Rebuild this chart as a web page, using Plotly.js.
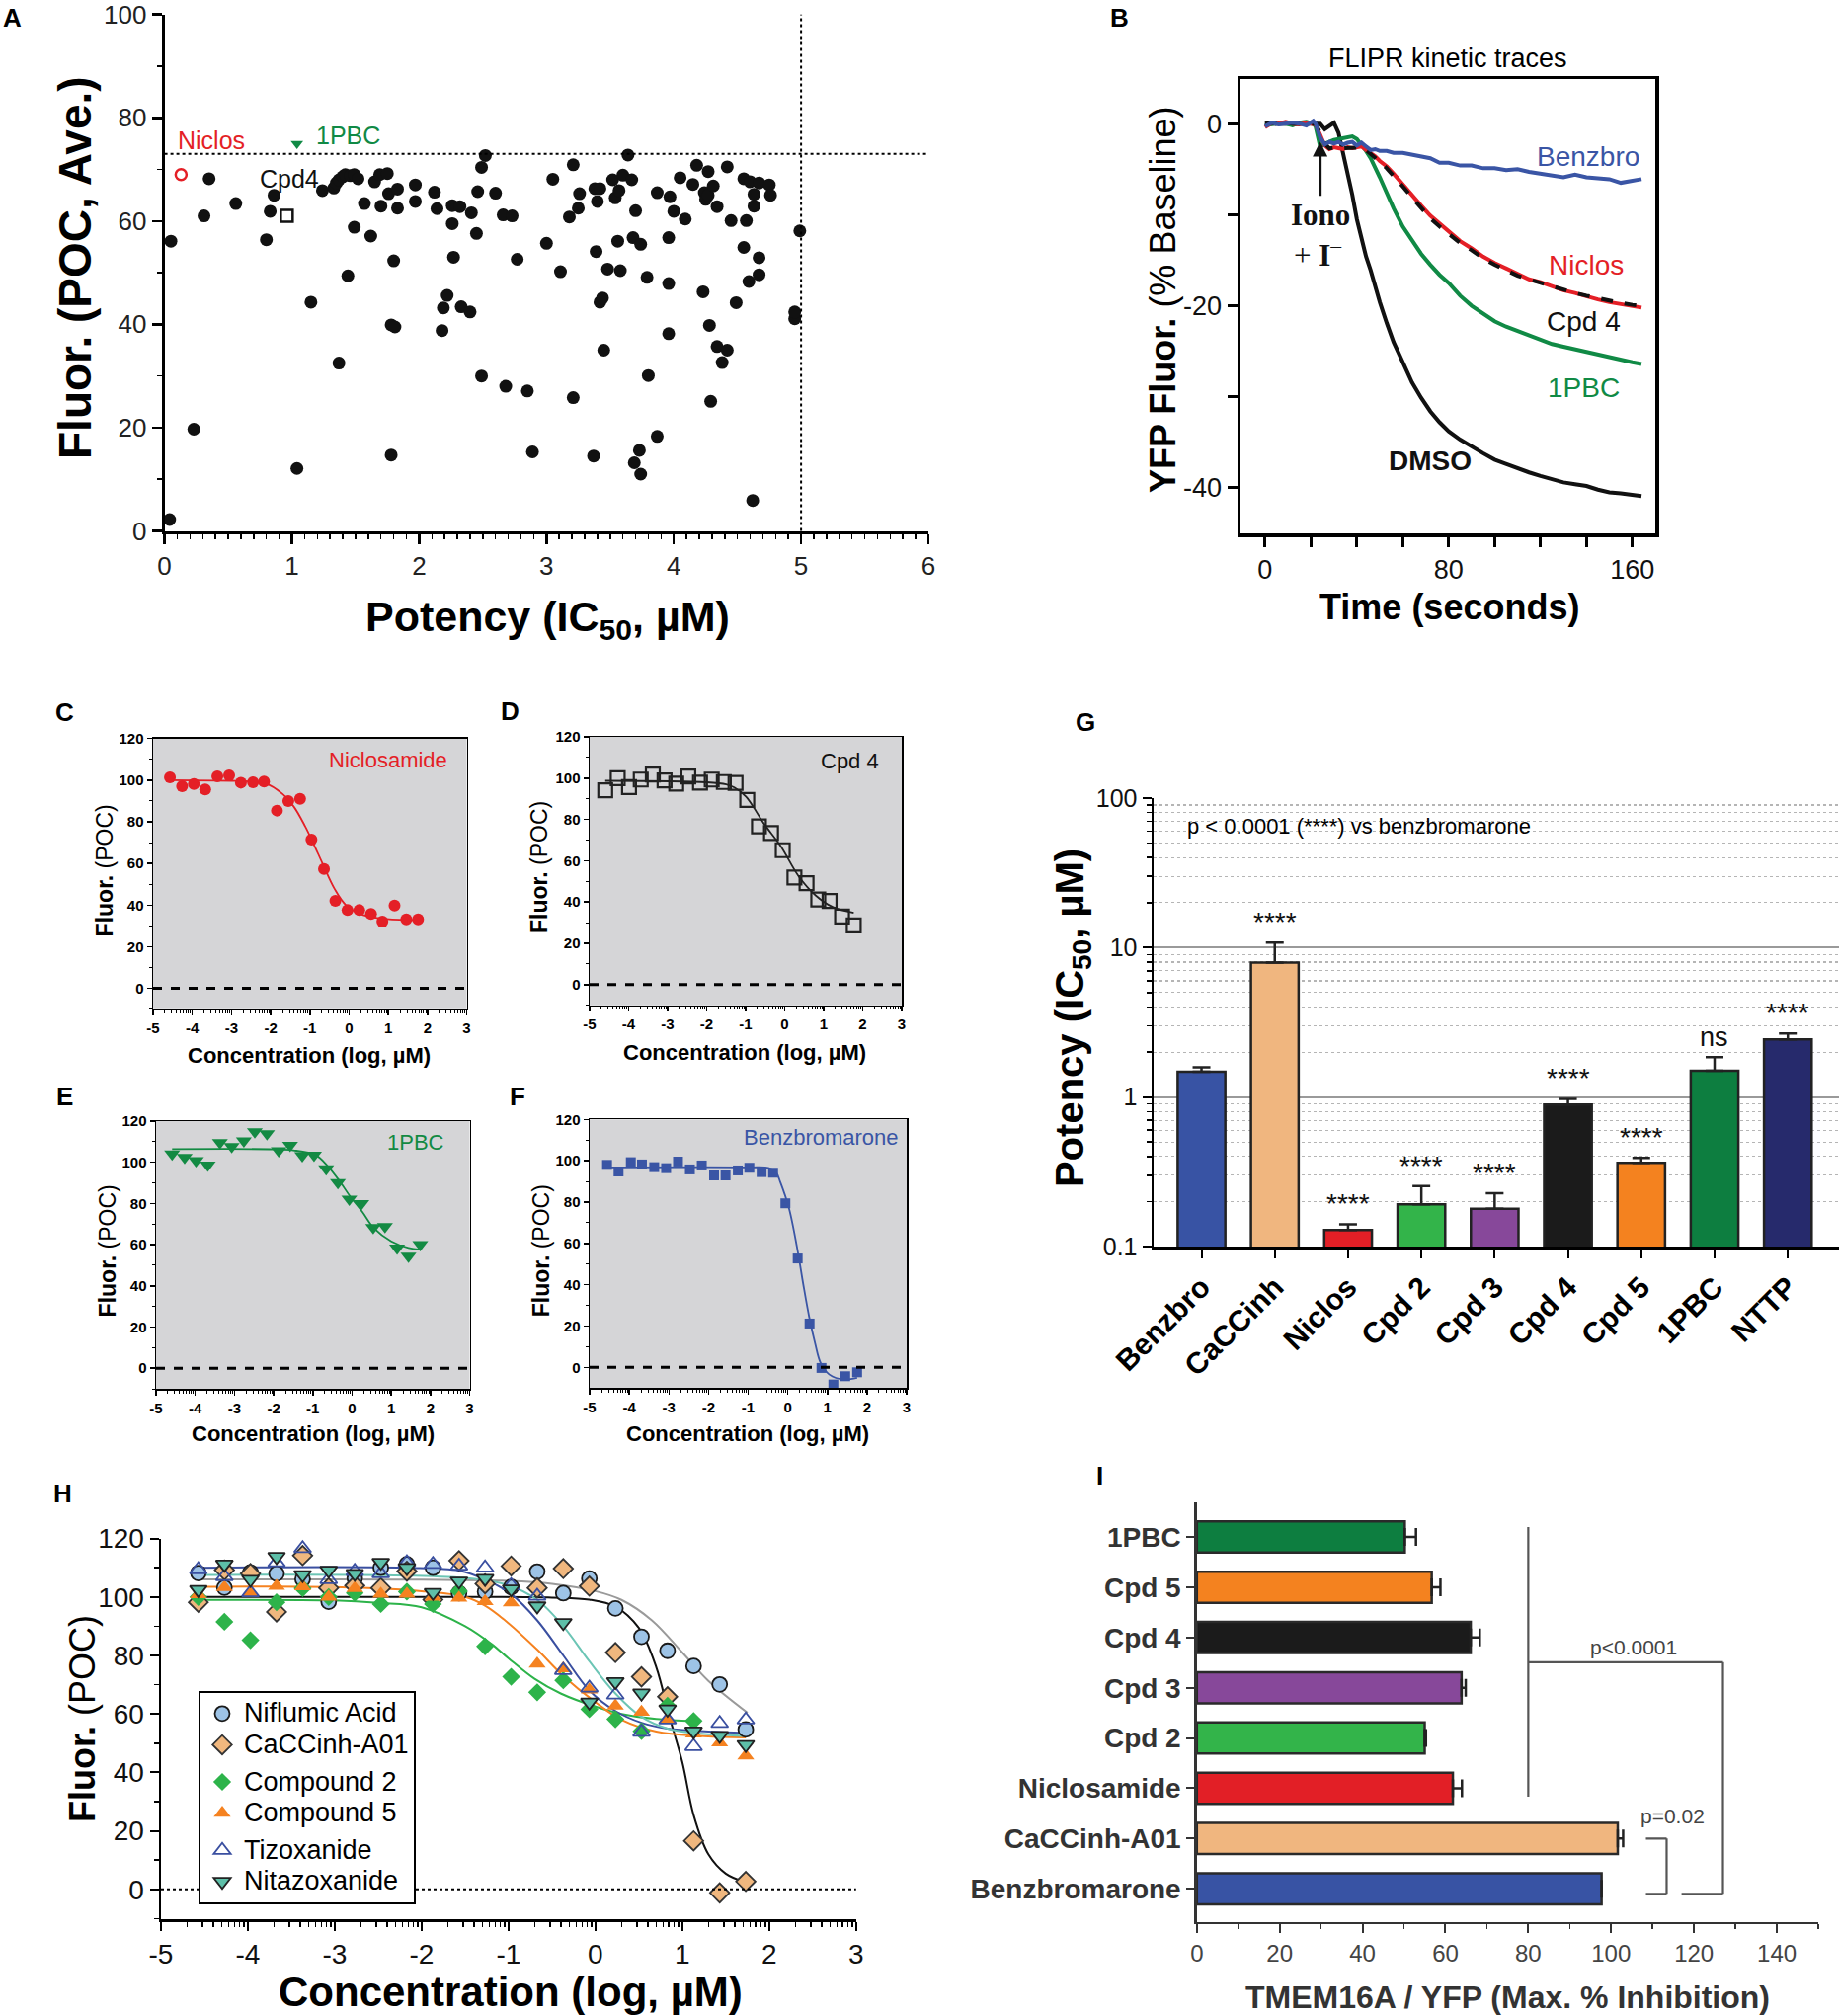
<!DOCTYPE html>
<html>
<head>
<meta charset="utf-8">
<script src="https://cdn.plot.ly/plotly-3.0.1.min.js"></script>
<style>html,body{margin:0;padding:0;background:#fff}#chart{width:1862px;height:2041px}</style>
</head>
<body>
<div id="chart"></div>
<script>
// ================= DATA =================
// Panel A: screen hits (IC50 vs max fluorescence)
const aPotency = [0.05,0.04,0.23,0.35,0.31,0.56,0.80,0.83,0.86,1.04,
  1.15,1.24,1.33,1.35,1.37,1.40,1.42,1.46,1.49,1.52,
  1.37,1.44,1.49,1.57,1.62,1.65,1.69,1.70,1.75,1.76,
  1.83,1.83,1.80,1.78,1.81,1.78,1.97,1.97,2.12,2.14,
  2.26,2.26,2.32,2.27,2.41,2.45,2.46,2.49,2.52,2.22,
  2.19,2.33,2.40,2.18,2.49,2.60,2.66,2.73,2.77,2.68,
  2.85,2.89,3.00,3.05,3.11,3.18,3.21,3.25,3.26,3.21,
  3.37,3.38,3.42,3.40,3.39,3.42,3.44,3.45,3.48,3.52,
  3.54,3.56,3.57,3.60,3.58,3.64,3.67,3.70,3.68,3.74,
  3.79,3.80,3.69,3.73,3.74,3.87,3.87,3.97,4.00,3.96,
  3.96,3.96,4.05,4.09,4.15,4.18,4.24,4.25,4.27,4.27,
  4.31,4.34,4.23,4.28,4.34,4.38,4.42,4.29,4.42,4.45,
  4.49,4.55,4.57,4.55,4.59,4.60,4.63,4.63,4.67,4.67,
  4.67,4.62,4.75,4.76,4.95,4.95,4.99];
const aFluor = [56.1,2.2,19.7,68.2,61.0,63.4,56.4,61.9,65.0,12.1,
  44.3,65.9,66.4,67.4,68.0,68.6,69.0,68.8,69.0,68.2,
  32.5,49.4,58.8,63.4,57.1,67.6,69.0,62.9,69.2,65.3,
  66.2,62.5,52.3,39.9,39.5,14.7,67.0,63.8,65.6,62.4,
  63.0,59.5,62.8,53.0,61.6,57.6,65.7,70.4,72.7,45.6,
  43.2,43.4,42.4,38.8,30.0,65.4,61.2,61.0,52.6,28.0,
  27.1,15.3,55.7,68.1,50.2,60.8,70.9,62.5,65.3,25.8,
  14.5,66.3,66.3,63.8,54.1,44.3,45.1,35.0,50.7,68.0,
  64.5,56.1,65.9,68.9,50.4,72.8,68.0,62.0,56.8,55.5,
  49.1,30.1,13.2,15.6,11.0,18.3,65.5,64.7,61.9,56.8,
  47.9,38.2,68.4,60.4,67.1,70.8,65.5,64.2,65.0,69.6,
  66.8,62.8,46.3,39.8,35.7,32.6,35.0,25.1,70.5,60.1,
  44.2,68.2,60.1,54.9,48.3,67.6,65.2,62.9,67.4,52.9,
  49.6,5.9,67.0,65.0,41.1,42.4,58.1];
const aHitNames = ['Niclos', 'Cpd4', '1PBC'];
const aHitPotency = [0.13, 0.96, 1.04];
const aHitFluor = [69.0, 61.0, 75.0];
const aCutoffFluor = 73;
const aCutoffPotency = 5;

// Panel B: FLIPR kinetic traces (% baseline)
const bTime = [0,3,6,9,12,15,18,21,22,24,26,28,30,32,34,36,38,40,42,44,46,48,50,53,56,60,64,68,72,76,80,85,90,95,100,105,110,115,120,125,130,135,140,145,150,155,160,164];
const bBenzbro = [-0.3,0.1,-0.1,0.0,0.1,0.0,-0.2,0.3,0.0,-1.5,-2.3,-2.0,-2.2,-2.0,-2.3,-2.1,-2.0,-2.4,-2.1,-2.5,-2.9,-2.8,-3.0,-3.0,-3.2,-3.2,-3.4,-3.7,-3.8,-4.3,-4.3,-4.6,-4.6,-4.9,-4.9,-5.1,-5.0,-5.3,-5.5,-5.6,-5.9,-5.6,-5.9,-6.0,-6.1,-6.5,-6.3,-6.1];
const bNiclos = [-0.4,0.1,0.0,0.2,0.0,-0.1,0.1,0.0,-0.1,-1.2,-2.4,-2.8,-2.6,-2.7,-2.8,-2.6,-2.7,-2.6,-2.5,-2.9,-3.2,-3.6,-4.1,-4.7,-5.5,-6.7,-7.8,-9.0,-10.1,-11.0,-11.8,-12.9,-13.7,-14.6,-15.3,-15.9,-16.6,-17.1,-17.4,-17.9,-18.3,-18.6,-19.0,-19.3,-19.6,-19.8,-20.1,-20.2];
const bCpd4 = [0.0,0.1,-0.1,0.1,0.0,0.0,0.1,0.0,0.0,-1.0,-2.2,-2.7,-2.6,-2.6,-2.7,-2.7,-2.6,-2.6,-2.6,-2.9,-3.3,-3.7,-4.2,-4.9,-5.7,-6.9,-8.1,-9.3,-10.4,-11.3,-12.1,-13.1,-13.9,-14.8,-15.5,-16.1,-16.7,-17.1,-17.5,-17.9,-18.3,-18.6,-18.9,-19.2,-19.4,-19.7,-19.9,-20.0];
const b1PBC = [-0.2,0.0,0.1,0.0,-0.2,0.1,0.2,0.0,-0.3,-2.5,-2.2,-2.0,-1.8,-1.7,-1.6,-1.5,-1.4,-1.7,-2.3,-3.0,-3.8,-4.8,-5.9,-7.6,-9.3,-11.3,-12.9,-14.3,-15.5,-16.6,-17.5,-18.9,-20.0,-20.9,-21.7,-22.3,-22.8,-23.3,-23.8,-24.2,-24.5,-24.8,-25.1,-25.4,-25.6,-25.9,-26.2,-26.4];
const bDMSO = [0.0,0.0,0.0,0.1,0.0,0.0,0.0,0.0,0.0,0.0,-0.6,-0.3,0.1,-1.0,-3.2,-5.4,-7.8,-10.5,-12.8,-14.6,-16.1,-17.9,-19.6,-21.9,-24.0,-26.2,-28.4,-30.1,-31.6,-32.8,-33.8,-34.7,-35.5,-36.2,-36.9,-37.4,-37.8,-38.3,-38.7,-39.1,-39.4,-39.6,-39.8,-40.2,-40.5,-40.6,-40.8,-40.9];

// Panels C-F: concentration-response (log uM vs POC)
const cConc = [-4.57,-4.26,-3.96,-3.67,-3.36,-3.06,-2.76,-2.45,-2.17,-1.84,-1.55,-1.25,-0.96,-0.64,-0.35,-0.04,0.26,0.56,0.85,1.16,1.46,1.76];
const cFluor = [101.4,97.1,98.2,95.5,101.8,102.3,98.8,99.0,99.3,85.4,90.0,91.0,71.5,57.3,42.0,37.6,37.6,35.8,32.1,39.8,33.2,33.2];
const cFitConc = [-4.57,-3,-2.5,-2.16,-1.71,-1.41,-1.12,-0.9,-0.67,-0.37,-0.08,0.36,0.96,1.76];
const cFitFluor = [100,99.7,99.4,98.7,93.6,87.3,77.8,69.2,59.7,47.8,40,35.2,33.3,32.8];

const dConc = [-4.60,-4.28,-3.99,-3.69,-3.38,-3.08,-2.78,-2.47,-2.17,-1.87,-1.56,-1.26,-0.96,-0.66,-0.35,-0.05,0.25,0.56,0.86,1.15,1.47,1.77];
const dFluor = [94.1,100.0,95.7,99.3,101.8,98.9,97.3,100.8,97.8,99.3,98.1,97.7,89.4,76.6,73.4,65.1,51.9,49.1,41.2,40.5,33.0,28.7];
const dFitConc = [-4.6,-2,-1.5,-1.29,-0.99,-0.54,-0.1,0.35,0.8,1.24,1.77];
const dFitFluor = [98.7,98,97,95.5,91,78.2,67,52.7,43.1,37.5,34.8];

const eConc = [-4.59,-4.27,-3.98,-3.68,-3.37,-3.07,-2.76,-2.48,-2.17,-1.87,-1.58,-1.27,-0.97,-0.66,-0.36,-0.07,0.24,0.54,0.84,1.15,1.44,1.74];
const eFluor = [104.0,102.4,100.8,98.7,109.6,107.7,110.4,114.9,113.9,105.6,108.3,103.2,103.5,96.8,90.1,82.1,80.0,68.3,68.8,58.4,54.4,60.0];
const eFitConc = [-4.59,-2,-1.5,-0.93,-0.63,-0.33,-0.04,0.26,0.56,1.0,1.44,1.74];
const eFitFluor = [106.4,106.3,105.8,103.5,98.4,91.2,83.2,76,68,61.6,58.4,57.6];

const fConc = [-4.56,-4.27,-3.96,-3.68,-3.37,-3.07,-2.77,-2.47,-2.17,-1.86,-1.57,-1.26,-0.97,-0.66,-0.37,-0.06,0.25,0.55,0.85,1.15,1.45,1.75];
const fFluor = [98.0,94.8,99.3,98.2,96.9,96.4,99.6,95.8,97.7,92.9,92.9,95.3,96.6,94.5,94.2,79.4,52.7,21.2,-0.3,-8.3,-4.3,-2.4];
const fFitConc = [-4.56,-1,-0.49,-0.3,-0.19,0.03,0.25,0.39,0.54,0.69,0.83,1.05,1.42,1.75];
const fFitFluor = [96.8,96.8,96.5,94.5,89.7,77,56.3,40.3,24.4,11.6,2.1,-3.5,-5.9,-5.1];

// Panel G: IC50 (uM)
const gCompounds = ['Benzbro','CaCCinh','Niclos','Cpd 2','Cpd 3','Cpd 4','Cpd 5','1PBC','NTTP'];
const gIC50 = [1.48,7.94,0.129,0.192,0.179,0.89,0.363,1.50,2.43];
const gIC50Upper = [1.58,10.8,0.141,0.254,0.227,0.973,0.392,1.85,2.66];
const gSig = ['','****','****','****','****','****','****','ns','****'];
const gColors = ['#3853a4','#f0b67f','#e21f26','#33b44a','#87489a','#1b1b1b','#f4821f','#0d7e40','#262a6c'];

// Panel H: concentration-response, several compounds
const hConc = [-4.57,-4.27,-3.97,-3.67,-3.37,-3.07,-2.77,-2.47,-2.17,-1.87,-1.57,-1.27,-0.97,-0.67,-0.37,-0.07,0.23,0.53,0.83,1.13,1.43,1.73];
const hNiflumic = [108.2,103.2,108.4,108.0,106.1,98.4,106.4,110.0,111.2,110.0,101.3,101.8,103.4,108.7,101.3,106.3,96.1,86.4,81.6,76.4,70.1,54.7];
const hCaCCinh = [98.2,109.2,108.0,94.9,114.2,103.1,103.9,103.1,108.8,99.1,112.4,104.5,110.6,103.1,109.7,103.7,81.0,72.7,65.9,16.6,-1.2,2.7];
const hCpd2 = [100.0,91.5,85.2,98.2,103.0,100.0,101.4,97.6,101.8,97.6,102.0,83.1,72.7,67.4,71.5,61.6,58.2,54.1,62.8,57.6];
const hCpd5 = [100.9,103.3,101.5,103.7,103.6,100.0,103.0,101.0,101.0,100.0,99.7,98.5,98.1,77.1,75.5,68.3,62.8,60.7,58.0,53.2,50.2,45.7];
const hTizox = [109.4,107.0,101.5,111.8,116.6,106.0,108.8,108.0,111.8,111.2,110.6,110.0,103.9,100.3,74.9,68.9,66.5,53.8,58.0,48.9,56.8,58.0];
const hNitazox = [102.5,111.2,106.0,113.8,107.6,109.1,108.0,111.8,110.0,101.5,105.4,106.3,102.7,96.9,91.2,64.0,71.0,67.1,61.6,54.1,52.6,49.5];
const hFitNiflumicX = [-4.57,-3,-2,-1,-0.5,0,0.3,0.65,1.0,1.3,1.75];
const hFitNiflumicY = [106,106,105.9,105.5,104.5,102,99,92,81,71.3,60.4];
const hFitCaCCinhX = [-4.57,-2,-0.5,-0.07,0.23,0.5,0.7,0.85,1.0,1.13,1.3,1.5,1.73];
const hFitCaCCinhY = [100,100,99.8,99.1,96.7,89.4,76,59.2,43.5,25.4,12,5.4,2.4];
const hFitCpd2X = [-4.57,-3,-2.5,-2,-1.5,-1.2,-1,-0.7,-0.4,0,0.3,0.7,1.13];
const hFitCpd2Y = [99,98.8,98,96.5,90,84,79,72,67,62.5,60,58.3,57.5];
const hFitCpd5X = [-4.57,-3,-2,-1.5,-1.27,-1,-0.67,-0.37,0,0.3,0.7,1.2,1.73];
const hFitCpd5Y = [103.5,103.4,102,100,97,91,82,73,64,58,54,52.5,52];
const hFitTizoxX = [-4.57,-2.2,-1.57,-1.27,-0.97,-0.67,-0.37,-0.07,0.23,0.53,0.83,1.3,1.73];
const hFitTizoxY = [110,110,109,106,101,92,80,68,61,57,55,54,53.5];
const hFitNitazoxX = [-4.57,-1.5,-1,-0.67,-0.37,-0.07,0.23,0.53,0.83,1.13,1.73];
const hFitNitazoxY = [107.5,106.5,104,99,90,78,67,59,55,53.5,52.5];

// Panel I: max % inhibition
const iCompounds = ['1PBC','Cpd 5','Cpd 4','Cpd 3','Cpd 2','Niclosamide','CaCCinh-A01','Benzbromarone'];
const iInhibition = [50.2,56.7,66.1,63.9,55.0,61.8,101.6,97.7];
const iError = [2.7,2.1,2.2,1.0,0.3,2.2,1.3,0];
const iColors = ['#0d7e40','#f4821f','#1b1b1b','#87489a','#33b44a','#e21f26','#f0b67f','#3853a4'];

// ================= HELPERS =================
const W = 1862, H = 2041;
const FONT = '"Liberation Sans", Arial, Helvetica, sans-serif';
const SERIF = '"Liberation Serif", "Times New Roman", serif';
const dx = (a, b) => [a / W, b / W];
const dy = (t, b) => [1 - b / H, 1 - t / H];
const PX = v => v / W, PY = v => 1 - v / H;
function ann(text, x, y, size, o) {
  return Object.assign({xref:'paper', yref:'paper', x:PX(x), y:PY(y), text:text, showarrow:false,
    xanchor:'center', yanchor:'middle', font:{family:FONT, size:size, color:'#000'}}, o || {});
}
const logMinor = [];
for (let d = -5; d < 3; d++) for (let k = 2; k < 10; k++) logMinor.push(d + Math.log10(k));
const gMinor = [];
[0.1, 1, 10].forEach(d => { for (let k = 2; k < 10; k++) gMinor.push(d * k); });
const concTicks = [-5,-4,-3,-2,-1,0,1,2,3];
const concText = concTicks.map(v => String(v));

function doseX(dom, anchor, size, opts) {
  return Object.assign({domain:dom, anchor:anchor, range:[-5,3], tickmode:'array', tickvals:concTicks, ticktext:concText,
    ticks:'outside', ticklen:5, tickwidth:1.5, tickcolor:'#000', showline:true, mirror:true, linecolor:'#000', linewidth:1.5,
    tickfont:{family:FONT, size:size, color:'#000', weight:'bold'}, showgrid:false, zeroline:false, ticklabeloverflow:'allow',
    minor:{tickmode:'array', tickvals:logMinor, ticks:'outside', ticklen:3, tickwidth:1, tickcolor:'#000'}}, opts || {});
}
function doseY(dom, anchor, lo, size, opts) {
  return Object.assign({domain:dom, anchor:anchor, range:[lo,120], tickmode:'array', tickvals:[0,20,40,60,80,100,120],
    ticktext:['0','20','40','60','80','100','120'], ticklabeloverflow:'allow',
    ticks:'outside', ticklen:5, tickwidth:1.5, tickcolor:'#000', showline:true, mirror:true, linecolor:'#000', linewidth:1.5,
    tickfont:{family:FONT, size:size, color:'#000', weight:'bold'}, showgrid:false, zeroline:false,
    minor:{dtick:10, tick0:0, ticks:'outside', ticklen:3, tickwidth:1, tickcolor:'#000'}}, opts || {});
}

// ================= TRACES =================
const traces = [];
// A
traces.push({type:'scatter', mode:'markers', x:aPotency, y:aFluor, xaxis:'x', yaxis:'y', cliponaxis:false,
  marker:{color:'#111', size:13}, showlegend:false});
traces.push({type:'scatter', mode:'markers', x:[aHitPotency[0]], y:[aHitFluor[0]], xaxis:'x', yaxis:'y', cliponaxis:false,
  marker:{symbol:'circle-open', color:'#e41f26', size:11, line:{width:2.5, color:'#e41f26'}}, showlegend:false});
traces.push({type:'scatter', mode:'markers', x:[aHitPotency[1]], y:[aHitFluor[1]], xaxis:'x', yaxis:'y', cliponaxis:false,
  marker:{symbol:'square-open', color:'#111', size:12, line:{width:2.5, color:'#111'}}, showlegend:false});
traces.push({type:'scatter', mode:'markers', x:[aHitPotency[2]], y:[aHitFluor[2]], xaxis:'x', yaxis:'y', cliponaxis:false,
  marker:{symbol:'triangle-down', color:'#108a45', size:11}, showlegend:false});

// B
[[bDMSO,'#111','solid'],[b1PBC,'#108a45','solid'],[bNiclos,'#e41f26','solid'],[bCpd4,'#111','dash'],[bBenzbro,'#3a55a5','solid']]
.forEach(s => traces.push({type:'scatter', mode:'lines', x:bTime, y:s[0], xaxis:'x2', yaxis:'y2',
  line:{color:s[1], width:4, dash:s[2]}, showlegend:false}));

// C-F
function dose(ax, ay, xs, ys, fx, fy, color, marker) {
  traces.push({type:'scatter', mode:'lines', x:fx, y:fy, xaxis:ax, yaxis:ay, line:{color:color, width:1.8, shape:'spline'}, showlegend:false});
  traces.push({type:'scatter', mode:'markers', x:xs, y:ys, xaxis:ax, yaxis:ay, marker:marker, showlegend:false, cliponaxis:false});
}
dose('x3','y3', cConc, cFluor, cFitConc, cFitFluor, '#e41f26', {symbol:'circle', size:12, color:'#e41f26'});
dose('x4','y4', dConc, dFluor, dFitConc, dFitFluor, '#222', {symbol:'square-open', size:14, color:'#222', line:{width:2.2, color:'#222'}});
dose('x5','y5', eConc, eFluor, eFitConc, eFitFluor, '#138a43', {symbol:'triangle-down', size:14, color:'#138a43'});
dose('x6','y6', fConc, fFluor, fFitConc, fFitFluor, '#3a55a5', {symbol:'square', size:10, color:'#3a55a5'});

// G
traces.push({type:'bar', x:gCompounds, y:gIC50, xaxis:'x7', yaxis:'y7', width:0.65,
  marker:{color:gColors, line:{color:'#222', width:2.5}}, showlegend:false,
  error_y:{type:'data', symmetric:false, array:gIC50Upper.map((u,i)=>u-gIC50[i]), arrayminus:gIC50.map(()=>0),
    color:'#222', thickness:2.5, width:9}});

// H curves
[[hFitNiflumicX,hFitNiflumicY,'#9a9a9a'],[hFitCaCCinhX,hFitCaCCinhY,'#111'],[hFitCpd2X,hFitCpd2Y,'#2db34a'],
 [hFitCpd5X,hFitCpd5Y,'#f58220'],[hFitTizoxX,hFitTizoxY,'#3a4fa0'],[hFitNitazoxX,hFitNitazoxY,'#6cc5b5']]
.forEach(s => traces.push({type:'scatter', mode:'lines', x:s[0], y:s[1], xaxis:'x8', yaxis:'y8',
  line:{color:s[2], width:2, shape:'spline'}, showlegend:false}));
// H markers (legend)
const hSeries = [
  ['Niflumic Acid', hNiflumic, {symbol:'circle', size:15, color:'#9dc3e6', line:{color:'#1a1a1a', width:1.8}}, 'g1'],
  ['CaCCinh-A01', hCaCCinh, {symbol:'diamond', size:15, color:'#f0b77e', line:{color:'#333', width:1.8}}, 'g1'],
  ['Compound 2', hCpd2, {symbol:'diamond', size:14, color:'#2db34a'}, 'g2'],
  ['Compound 5', hCpd5, {symbol:'triangle-up', size:15, color:'#f58220'}, 'g2'],
  ['Tizoxanide', hTizox, {symbol:'triangle-up-open', size:15, color:'#3a4fa0', line:{color:'#3a4fa0', width:1.8}}, 'g3'],
  ['Nitazoxanide', hNitazox, {symbol:'triangle-down', size:15, color:'#5dbfa8', line:{color:'#222', width:1.8}}, 'g3']
];
hSeries.forEach(s => traces.push({type:'scatter', mode:'markers', name:'<span style="font-size:27px">' + s[0] + '</span>',
  x:hConc.slice(0, s[1].length), y:s[1],
  xaxis:'x8', yaxis:'y8', marker:s[2], legendgroup:s[3], showlegend:true, cliponaxis:false}));

// I
traces.push({type:'bar', orientation:'h', x:iInhibition, y:iCompounds, xaxis:'x9', yaxis:'y9', width:0.62,
  marker:{color:iColors, line:{color:'#2a2a2a', width:2.5}}, showlegend:false,
  error_x:{type:'data', symmetric:false, array:iError, arrayminus:iError.map(()=>0), color:'#222', thickness:2.5, width:9}});

// ================= AXES =================
const axA = {showline:true, linecolor:'#000', linewidth:3, ticks:'outside', ticklen:10, tickwidth:2.5, tickcolor:'#000',
  showgrid:false, zeroline:false, ticklabeloverflow:'allow', tickfont:{family:FONT, size:26, color:'#222'}};
const layout = {
  width:W, height:H, margin:{l:0, r:0, t:0, b:0}, paper_bgcolor:'#fff', plot_bgcolor:'rgba(0,0,0,0)',
  font:{family:FONT, color:'#000'}, showlegend:true, hovermode:false,
  legend:{x:PX(201), y:PY(1712), xanchor:'left', yanchor:'top', bordercolor:'#000', borderwidth:2, bgcolor:'#fff',
    font:{family:FONT, size:22, color:'#000'}, tracegroupgap:6, traceorder:'grouped', itemwidth:34},
  // A
  xaxis:Object.assign({}, axA, {domain:dx(166.6, 940), anchor:'y', range:[0,6], dtick:1, tick0:0,
    minor:{dtick:0.1, tick0:0, ticks:'outside', ticklen:5, tickwidth:1.5, tickcolor:'#000'}}),
  yaxis:Object.assign({}, axA, {domain:dy(14.7, 537.5), anchor:'x', range:[0,100], dtick:20, tick0:0,
    minor:{dtick:10, tick0:0, ticks:'outside', ticklen:5, tickwidth:1.5, tickcolor:'#000'}}),
  // B
  xaxis2:{domain:dx(1256, 1676), anchor:'y2', range:[-10.7,170], tickmode:'array', tickvals:[0,80,160], ticktext:['0','80','160'],
    showline:true, mirror:true, linecolor:'#000', linewidth:3.5, ticks:'outside', ticklen:10, tickwidth:3, tickcolor:'#000',
    minor:{dtick:20, tick0:0, ticks:'outside', ticklen:10, tickwidth:3, tickcolor:'#000'},
    showgrid:false, zeroline:false, tickfont:{family:FONT, size:27, color:'#111'}},
  yaxis2:{domain:dy(80, 540), anchor:'x2', range:[-45,4.9], tickmode:'array', tickvals:[0,-20,-40], ticktext:['0','-20','-40'],
    showline:true, mirror:true, linecolor:'#000', linewidth:3.5, ticks:'outside', ticklen:10, tickwidth:3, tickcolor:'#000',
    minor:{dtick:10, tick0:0, ticks:'outside', ticklen:10, tickwidth:3, tickcolor:'#000'},
    showgrid:false, zeroline:false, tickfont:{family:FONT, size:27, color:'#111'}},
  // C-F
  xaxis3:doseX(dx(155, 472.5), 'y3', 15), yaxis3:doseY(dy(747.7, 1021.7), 'x3', -10, 15),
  xaxis4:doseX(dx(597, 913), 'y4', 15), yaxis4:doseY(dy(746, 1017.7), 'x4', -10, 15),
  xaxis5:doseX(dx(158, 475.5), 'y5', 15), yaxis5:doseY(dy(1135, 1406), 'x5', -10, 15),
  xaxis6:doseX(dx(597, 918), 'y6', 15), yaxis6:doseY(dy(1133.3, 1405), 'x6', -9.9, 15),
  // G
  xaxis7:{domain:[1168/W, 1], anchor:'y7', type:'category', range:[-0.654, 8.698], showline:true, linecolor:'#000', linewidth:2.5,
    ticks:'outside', ticklen:9, tickwidth:2, tickcolor:'#000', tickangle:-45, showgrid:false, zeroline:false,
    tickfont:{family:FONT, size:30, color:'#000', weight:'bold'}},
  yaxis7:{domain:dy(808, 1262), anchor:'x7', type:'log', range:[-1,2], tickmode:'array', tickvals:[0.1,1,10,100], ticktext:['0.1','1','10','100'],
    showline:true, linecolor:'#000', linewidth:2.5, ticks:'outside', ticklen:9, tickwidth:2, tickcolor:'#000',
    showgrid:true, gridcolor:'#9a9a9a', gridwidth:2, zeroline:false, tickfont:{family:FONT, size:25, color:'#111'},
    minor:{tickmode:'array', tickvals:gMinor, ticks:'outside', ticklen:5, tickwidth:1.5, tickcolor:'#000',
      showgrid:true, gridcolor:'#b5b5b5', griddash:'dot', gridwidth:1.2}},
  // H
  xaxis8:doseX(dx(163, 866.8), 'y8', 28, {mirror:false, linewidth:2.5, ticklen:9, tickwidth:2,
    tickfont:{family:FONT, size:28, color:'#111'},
    minor:{tickmode:'array', tickvals:logMinor, ticks:'outside', ticklen:5, tickwidth:1.5, tickcolor:'#000'}}),
  yaxis8:doseY(dy(1557.6, 1943.3), 'x8', -10.3, 28, {mirror:false, linewidth:2.5, ticklen:9, tickwidth:2,
    tickfont:{family:FONT, size:28, color:'#111'},
    minor:{dtick:10, tick0:0, ticks:'outside', ticklen:5, tickwidth:1.5, tickcolor:'#000'}}),
  // I
  xaxis9:{domain:dx(1211.8, 1841), anchor:'y9', range:[0,150], dtick:20, tick0:0, showline:true, linecolor:'#333', linewidth:2.5,
    ticks:'outside', ticklen:9, tickwidth:2, tickcolor:'#333', showgrid:false, zeroline:false,
    minor:{dtick:10, tick0:0, ticks:'outside', ticklen:5, tickwidth:1.5, tickcolor:'#333'},
    tickfont:{family:FONT, size:24, color:'#444'}},
  yaxis9:{domain:dy(1521, 1945.8), anchor:'x9', type:'category', categoryorder:'array', categoryarray:iCompounds,
    range:[7.66, -0.69], showline:true, linecolor:'#333', linewidth:2.5, ticks:'outside', ticklen:8, tickwidth:2, tickcolor:'#333',
    showgrid:false, zeroline:false, tickfont:{family:FONT, size:28, color:'#333', weight:'bold'}},
  shapes:[], annotations:[]
};

// ================= SHAPES =================
const S = layout.shapes;
// A cut-off lines
S.push({type:'line', xref:'x domain', x0:0, x1:1, yref:'y', y0:aCutoffFluor, y1:aCutoffFluor, line:{color:'#000', width:2, dash:'dot'}});
S.push({type:'line', xref:'x', x0:aCutoffPotency, x1:aCutoffPotency, yref:'y domain', y0:0, y1:1, line:{color:'#000', width:2, dash:'dot'}});
// gray backgrounds and zero lines C-F
['3','4','5','6'].forEach(n => {
  S.push({type:'rect', layer:'below', xref:'x'+n+' domain', yref:'y'+n+' domain', x0:0, x1:1, y0:0, y1:1, fillcolor:'#d5d5d7', line:{width:0}});
  S.push({type:'line', xref:'x'+n+' domain', x0:0, x1:1, yref:'y'+n, y0:0, y1:0, line:{color:'#000', width:3, dash:'dash'}});
});
// H zero line
S.push({type:'line', xref:'x8 domain', x0:0, x1:1, yref:'y8', y0:0, y1:0, line:{color:'#000', width:2, dash:'dot'}});
// I significance brackets: [x0, y0, x1, y1] in (% inhibition, category index)
const iBrackets = [[80,-0.2,80,5.17],[80,2.49,127,2.49],[127,2.49,127,7.1],[117,7.1,127,7.1],
  [108.4,6.0,113.4,6.0],[113.4,6.0,113.4,7.1],[108.4,7.1,113.4,7.1]];
iBrackets.forEach(b => S.push({type:'line', xref:'x9', yref:'y9', x0:b[0], y0:b[1], x1:b[2], y1:b[3], line:{color:'#555', width:2.2}}));

// ================= ANNOTATIONS =================
const A = layout.annotations;
// panel letters
[['A',12,18],['B',1133,18],['C',65,721],['D',516,720],['E',65,1110],['F',524,1110],['G',1099,731],['H',63,1512],['I',1113,1494]]
.forEach(l => A.push(ann('<b>'+l[0]+'</b>', l[1], l[2], 26)));
// A
A.push(ann('<b>Fluor. (POC, Ave.)</b>', 76, 271, 46, {textangle:-90}));
A.push(ann('<b>Potency (IC<sub>50</sub>, µM)</b>', 554, 627, 43));
const aHitColors = ['#e41f26','#111','#108a45'];
const aHitLabelPos = [[0.37,75.7],[0.98,68.2],[1.44,76.6]];
aHitNames.forEach((n,i) => A.push({xref:'x', yref:'y', x:aHitLabelPos[i][0], y:aHitLabelPos[i][1], text:n, showarrow:false,
  font:{family:FONT, size:25, color:aHitColors[i]}}));
// B
A.push(ann('FLIPR kinetic traces', 1466, 59, 27));
A.push(ann('<b>YFP Fluor.</b> (% Baseline)', 1177, 304, 36, {textangle:-90}));
A.push(ann('<b>Time (seconds)</b>', 1467, 614, 36));
A.push({xref:'x2', yref:'y2', x:164, y:-3.6, text:'Benzbro', showarrow:false, xanchor:'right', font:{family:FONT, size:28, color:'#3a55a5'}});
A.push({xref:'x2', yref:'y2', x:140, y:-15.6, text:'Niclos', showarrow:false, font:{family:FONT, size:28, color:'#e41f26'}});
A.push({xref:'x2', yref:'y2', x:139, y:-21.7, text:'Cpd 4', showarrow:false, font:{family:FONT, size:28, color:'#111'}});
A.push({xref:'x2', yref:'y2', x:139, y:-29, text:'1PBC', showarrow:false, font:{family:FONT, size:28, color:'#108a45'}});
A.push({xref:'x2', yref:'y2', x:72, y:-37, text:'<b>DMSO</b>', showarrow:false, font:{family:FONT, size:28, color:'#111'}});
A.push({xref:'x2', yref:'y2', axref:'x2', ayref:'y2', x:24, y:-2.0, ax:24, ay:-10, text:'<b>Iono</b>', showarrow:true,
  arrowhead:2, arrowsize:1, arrowwidth:3, arrowcolor:'#111', standoff:0, font:{family:SERIF, size:31, color:'#111'}});
A.push({xref:'x2', yref:'y2', x:23, y:-14.2, text:'+ <b>I</b><sup>–</sup>', showarrow:false, font:{family:SERIF, size:31, color:'#111'}});
// C-F labels
const doseTitles = [[105.7,881.7,313,1068],[546,878,754,1065],[108.7,1266.7,317,1451.7],[547.6,1266.7,757,1451.7]];
doseTitles.forEach(t => {
  A.push(ann('<b>Fluor.</b> (POC)', t[0], t[1], 23, {textangle:-90}));
  A.push(ann('<b>Concentration (log, µM)</b>', t[2], t[3], 22));
});
A.push({xref:'x3', yref:'y3', x:2.56, y:109.5, xanchor:'right', text:'Niclosamide', showarrow:false, font:{family:FONT, size:22, color:'#e41f26'}});
A.push({xref:'x4', yref:'y4', x:2.46, y:108.5, xanchor:'right', text:'Cpd 4', showarrow:false, font:{family:FONT, size:22, color:'#111'}});
A.push({xref:'x5', yref:'y5', x:2.41, y:109.6, xanchor:'right', text:'1PBC', showarrow:false, font:{family:FONT, size:22, color:'#138a43'}});
A.push({xref:'x6', yref:'y6', x:2.85, y:111.2, xanchor:'right', text:'Benzbromarone', showarrow:false, font:{family:FONT, size:22, color:'#3a55a5'}});
// G
A.push(ann('<b>Potency (IC<sub>50</sub>, µM)</b>', 1086, 1031, 40, {textangle:-90}));
A.push(ann('p < 0.0001 (****) vs benzbromarone', 1200, 836, 22, {xanchor:'left'}));
gSig.forEach((s,i) => { if (s) A.push({xref:'x7', yref:'y7', x:gCompounds[i], y:Math.log10(gIC50Upper[i]), yanchor:'bottom', yshift:3,
  text:s, showarrow:false, font:{family:FONT, size:s==='ns'?27:28, color:'#111'}}); });
// H
A.push(ann('<b>Fluor.</b> (POC)', 83, 1740, 36, {textangle:-90}));
A.push(ann('<b>Concentration (log, µM)</b>', 517, 2016, 42));
// I
A.push(ann('<b>TMEM16A / YFP (Max. % Inhibition)</b>', 1526, 2022, 32, {font:{family:FONT, size:32, color:'#333'}}));
A.push({xref:'x9', yref:'y9', x:105.4, y:2.19, text:'p<0.0001', showarrow:false, font:{family:FONT, size:21, color:'#444'}});
A.push({xref:'x9', yref:'y9', x:114.8, y:5.55, text:'p=0.02', showarrow:false, font:{family:FONT, size:21, color:'#444'}});

Plotly.newPlot('chart', traces, layout, {staticPlot:true});
</script>
</body>
</html>
